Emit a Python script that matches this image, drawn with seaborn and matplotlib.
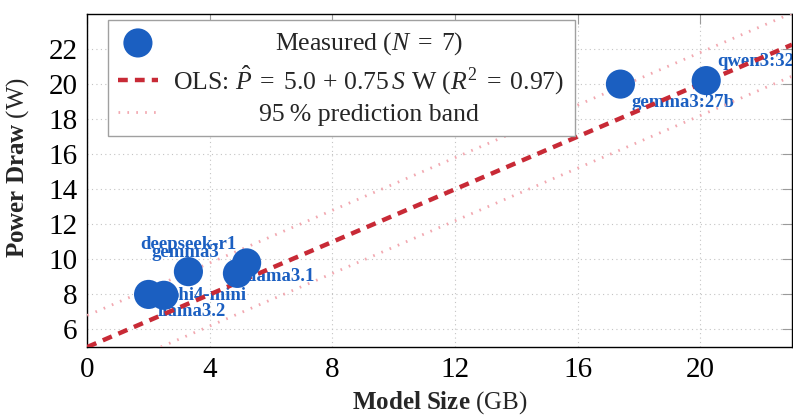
import numpy as np
import pandas as pd
import matplotlib
matplotlib.use("Agg")
import matplotlib.pyplot as plt
import seaborn as sns

# ---- data ----
models = ["llama3.2", "phi4-mini", "gemma3", "llama3.1", "deepseek-r1", "gemma3:27b", "qwen3:32b"]
size_gb = [2.0, 2.5, 3.3, 4.9, 5.2, 17.4, 20.2]
power_w = [8.0, 7.95, 9.3, 9.2, 9.8, 20.0, 20.2]
fit_intercept = 5.0
fit_slope = 0.75
fit_r2 = 0.97
band_half_width = 1.8
x_ticks = [0, 4, 8, 12, 16, 20]
y_ticks = [6, 8, 10, 12, 14, 16, 18, 20, 22]

# label placement (style): (dx pt, dy pt, ha, va)
label_style = {
    "llama3.2": (6.5, -12, "left", "center"),
    "phi4-mini": (3.5, 0, "left", "center"),
    "gemma3": (-2, 13.5, "center", "center"),
    "llama3.1": (7, -2, "left", "center"),
    "deepseek-r1": (-7, 13, "right", "center"),
    "gemma3:27b": (8, -13.5, "left", "center"),
    "qwen3:32b": (8, 13.5, "left", "center"),
}

sns.set_theme(style="white")
plt.rcParams["font.family"] = ["Liberation Serif", "DejaVu Serif"]
plt.rcParams["mathtext.fontset"] = "custom"
plt.rcParams["mathtext.rm"] = "Liberation Serif"
plt.rcParams["mathtext.it"] = "Liberation Serif:italic"
plt.rcParams["mathtext.bf"] = "Liberation Serif:bold"

BLUE = "#1b5fc1"
RED = "#c82a36"
PINK = "#f2a8b0"

fig = plt.figure(figsize=(7.93, 4.15), dpi=100)
ax = fig.add_axes([87.3 / 793, 68 / 415, (792 - 87.3) / 793, 333 / 415])

xlim = (0, 23)
ylim = (5, 24)

df = pd.DataFrame({"model": models, "size": size_gb, "power": power_w})

xs = np.array(xlim, dtype=float)
fit_df = pd.DataFrame({"x": xs, "y": fit_intercept + fit_slope * xs})
band_df = pd.DataFrame({"x": np.concatenate([xs, xs]),
                        "y": np.concatenate([fit_intercept + fit_slope * xs + band_half_width,
                                             fit_intercept + fit_slope * xs - band_half_width]),
                        "side": ["upper"] * 2 + ["lower"] * 2})

sns.scatterplot(data=df, x="size", y="power", ax=ax, s=440, color=BLUE,
                edgecolor="none", linewidth=0, zorder=5,
                label=r"Measured ($N\;=\;7$)")
sns.lineplot(data=fit_df, x="x", y="y", ax=ax, color=RED, lw=3.2,
             linestyle=(0, (2.2, 1.6)), zorder=4,
             label=rf"OLS: $\hat{{P}}\;=\;{fit_intercept:.1f}\,+\,{fit_slope:.2f}\,S$ W ($R^2\;=\;{fit_r2:.2f}$)")
for i, (side, sub) in enumerate(band_df.groupby("side", sort=False)):
    sns.lineplot(data=sub, x="x", y="y", ax=ax, color=PINK, lw=2.0,
                 linestyle=(0, (0.6, 2.6)), zorder=3,
                 label="95\u2009% prediction band" if i == 0 else None)

for m, xv, yv in zip(models, size_gb, power_w):
    dx, dy, ha, va = label_style[m]
    ax.annotate(m, (xv, yv), xytext=(dx, dy), textcoords="offset points",
                ha=ha, va=va, color=BLUE, fontsize=13.5, fontweight="bold",
                zorder=2, annotation_clip=False)

ax.set_xlim(*xlim)
ax.set_ylim(*ylim)
ax.set_xticks(x_ticks)
ax.set_yticks(y_ticks)
ax.tick_params(axis="both", which="major", direction="in", length=7, width=0.8,
               color="#9a9a9a", labelsize=21, top=True, right=True, pad=7,
               labelcolor="black")
ax.grid(True, color="#c4c4c4", linestyle=(0, (1, 3)), linewidth=0.8, zorder=0)
for s in ax.spines.values():
    s.set_color("black")
    s.set_linewidth(1.0)
    s.set_visible(True)

ax.set_xlabel(r"$\mathbf{Model\ Size}$ (GB)", fontsize=18)
ax.set_ylabel(r"$\mathbf{Power\ Draw}$ (W)", fontsize=18)
ax.xaxis.set_label_coords(0.5, -0.128)
ax.yaxis.set_label_coords(-0.08, 0.54)

leg = ax.legend(loc="upper left", bbox_to_anchor=(0.029, 0.982), borderaxespad=0,
                fontsize=18.5, frameon=True, fancybox=False, edgecolor="#a0a0a0",
                framealpha=1, handlelength=1.55, handletextpad=0.6,
                labelspacing=0.25, borderpad=0.4, markerscale=1.0)
leg.get_frame().set_linewidth(1.0)

# center legend texts within their column
fig.canvas.draw()
texts = leg.get_texts()
widths = [t.get_window_extent().width for t in texts]
wmax = max(widths)
for t, w in zip(texts, widths):
    t.set_x((wmax - w) / 2.0)

fig.savefig("out.png", dpi=100)
